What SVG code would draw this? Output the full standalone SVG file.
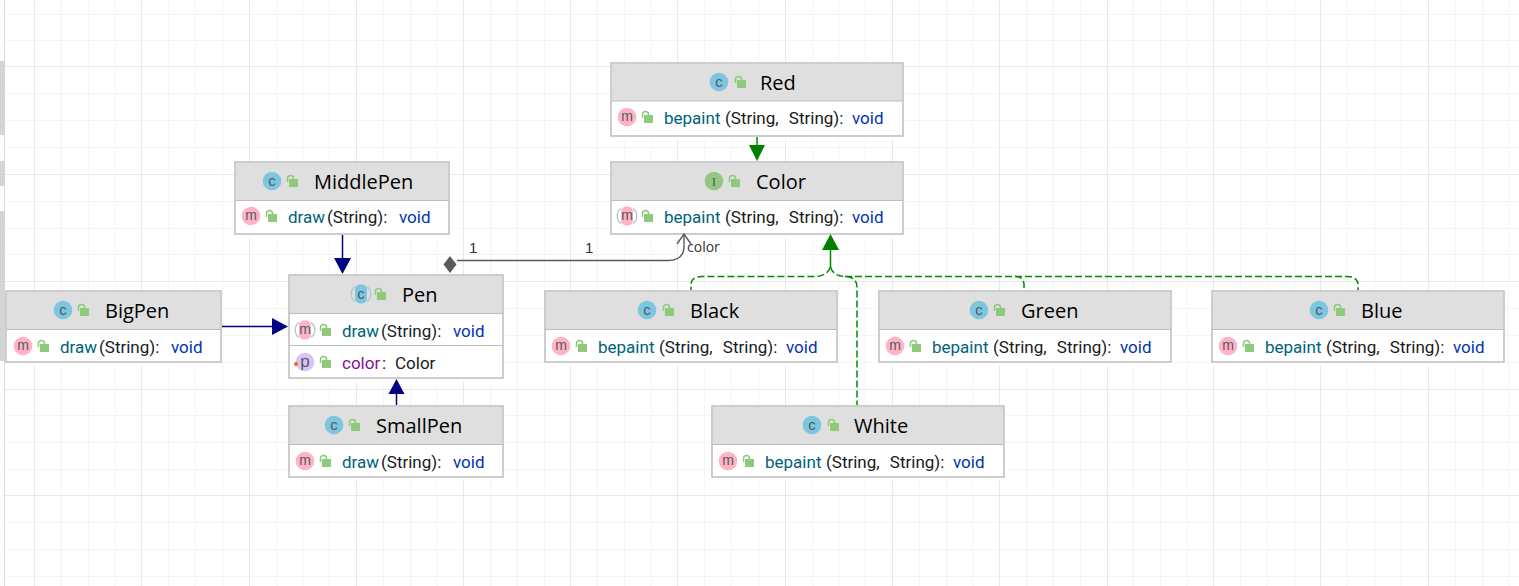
<svg xmlns="http://www.w3.org/2000/svg" width="1519" height="586" viewBox="0 0 1519 586">
<style>
.bg{fill:#fff}
.maj{stroke:#e8e8e8;stroke-width:1;fill:none}
.min{stroke:#f5f5f5;stroke-width:1;fill:none}
.strip{fill:#d4d4d4}
.box{fill:#fff;stroke:#bdbdbd;stroke-width:1.5;filter:drop-shadow(0 3px 0 #fff)}
.head{fill:#dfdfdf}
.div{stroke:#bdbdbd;stroke-width:1.2;fill:none}
text{font-family:Roboto,"Open Sans","DejaVu Sans",sans-serif}
.t{font-family:"Open Sans","Noto Sans",sans-serif;font-size:20px;fill:#000}
.m{font-size:17px;fill:#00627a}
.p{font-size:17px;fill:#1a1a1a;word-spacing:6px}
.v{font-size:17px;fill:#0033b3}
.f{font-size:17px;fill:#871094}
.g{font-family:"Open Sans",sans-serif;font-size:14px;fill:#333}
.n{font-family:"Liberation Sans",sans-serif;font-size:15px;fill:#333}
.ic{font-family:"Liberation Sans",sans-serif;font-size:15px;fill:#4f5b66;text-anchor:middle}
.gd{stroke:#008a00;stroke-width:1.5;fill:none;stroke-dasharray:7 3}
.gs{stroke:#008a00;stroke-width:1.5;fill:none}
.gh{fill:#008000}
.nl{stroke:#000080;stroke-width:1.5;fill:none}
.nh{fill:#000080}
.as{stroke:#5a5a5a;stroke-width:1.4;fill:none}
.ring{fill:none;stroke:#b9c4ca;stroke-width:1.3}
</style>
<defs>
<g id="lock"><rect x="-4" y="-2" width="9" height="8" fill="#8fc97a"/><path d="M-5.500 1V-2.500a3 3 0 0 1 6 0V-2" fill="none" stroke="#8fc97a" stroke-width="1.500"/></g>
<g id="ic-c"><circle r="9.300" fill="#7ec5e0"/><text class="ic" y="4.500">c</text></g>
<g id="ic-c-abs"><path class="ring" d="M-6 -7.500A9.300 9.300 0 0 0 -6 7.500M6 -7.500A9.300 9.300 0 0 1 6 7.500"/><rect x="-6" y="-9.500" width="12" height="19" rx="5" fill="#7ec5e0"/><text class="ic" y="4.500">c</text></g>
<g id="ic-i"><circle r="9.300" fill="#97c684"/><text class="ic" y="4.500" style="font-family:'Liberation Serif',serif;font-size:13px">I</text></g>
<g id="ic-m"><circle r="9.300" fill="#ffb3c3"/><text class="ic" y="4" style="font-size:14px">m</text></g>
<g id="ic-m-abs"><path class="ring" d="M-6 -7.500A9.300 9.300 0 0 0 -6 7.500M6 -7.500A9.300 9.300 0 0 1 6 7.500"/><rect x="-6" y="-9.500" width="12" height="19" rx="5" fill="#ffb3c3"/><text class="ic" y="4" style="font-size:14px">m</text></g>
<g id="ic-p"><circle r="9.300" fill="#d9c5f5"/><text class="ic" y="5" style="font-size:17px">p</text></g>
</defs>
<rect class="bg" width="1519" height="586"/>
<!-- canvas grid -->
<g id="grid">
<path class="min" d="M61.500 0V586M88.500 0V586M115.500 0V586M168.500 0V586M195.500 0V586M222.500 0V586M276.500 0V586M302.500 0V586M329.500 0V586M383.500 0V586M410.500 0V586M436.500 0V586M490.500 0V586M517.500 0V586M544.500 0V586M597.500 0V586M624.500 0V586M651.500 0V586M704.500 0V586M731.500 0V586M758.500 0V586M812.500 0V586M838.500 0V586M865.500 0V586M919.500 0V586M946.500 0V586M972.500 0V586M1026.500 0V586M1053.500 0V586M1080.500 0V586M1133.500 0V586M1160.500 0V586M1187.500 0V586M1240.500 0V586M1267.500 0V586M1294.500 0V586M1347.500 0V586M1374.500 0V586M1401.500 0V586M1455.500 0V586M1482.500 0V586M1508.500 0V586"/>
<path class="min" d="M5 14.500H1519M5 40.500H1519M5 93.500H1519M5 120.500H1519M5 147.500H1519M5 201.500H1519M5 228.500H1519M5 254.500H1519M5 308.500H1519M5 335.500H1519M5 362.500H1519M5 415.500H1519M5 442.500H1519M5 469.500H1519M5 522.500H1519M5 549.500H1519M5 576.500H1519"/>
<path class="maj" d="M34.500 0V586M141.500 0V586M249.500 0V586M356.500 0V586M463.500 0V586M570.500 0V586M677.500 0V586M785.500 0V586M892.500 0V586M999.500 0V586M1107.500 0V586M1213.500 0V586M1320.500 0V586M1428.500 0V586"/>
<path class="maj" d="M5 66.500H1519M5 174.500H1519M5 281.500H1519M5 389.500H1519M5 495.500H1519"/>
<path d="M4.500 0V586" stroke="#dcdcdc" fill="none"/>
<rect class="strip" x="0" y="61" width="5" height="74"/>
<rect class="strip" x="0" y="161" width="5" height="25"/>
<rect class="strip" x="0" y="211" width="5" height="150"/>
</g>
<g id="Red">
<rect class="box" x="611" y="63" width="292" height="73"/><rect class="head" x="612" y="64" width="290" height="37"/><path class="div" d="M611 101H903"/>
<use href="#ic-c" x="719" y="82"/><use href="#lock" x="741" y="82"/><text class="t" x="760" y="90">Red</text>
<use href="#ic-m" x="627" y="117"/><use href="#lock" x="648" y="117"/>
<text class="m" x="664" y="124">bepaint</text><text class="p" x="725" y="124">(String, String):</text><text class="v" x="852" y="124">void</text>
</g>
<g id="Color">
<rect class="box" x="611" y="162" width="292" height="72"/><rect class="head" x="612" y="163" width="290" height="37"/><path class="div" d="M611 200.500H903"/>
<use href="#ic-i" x="714" y="181"/><use href="#lock" x="735" y="181"/><text class="t" x="756" y="189">Color</text>
<use href="#ic-m-abs" x="627" y="216"/><use href="#lock" x="648" y="216"/>
<text class="m" x="664" y="223">bepaint</text><text class="p" x="725" y="223">(String, String):</text><text class="v" x="852" y="223">void</text>
</g>
<g id="MiddlePen">
<rect class="box" x="235" y="162" width="214" height="72"/><rect class="head" x="236" y="163" width="212" height="37"/><path class="div" d="M235 200.500H449"/>
<use href="#ic-c" x="272" y="181"/><use href="#lock" x="293" y="181"/><text class="t" x="314" y="189">MiddlePen</text>
<use href="#ic-m" x="251" y="216"/><use href="#lock" x="272" y="216"/>
<text class="m" x="288" y="223">draw</text><text class="p" x="327" y="223">(String):</text><text class="v" x="399" y="223">void</text>
</g>
<g id="Pen">
<rect class="box" x="289" y="275" width="214" height="103"/><rect class="head" x="290" y="276" width="212" height="37"/><path class="div" d="M289 313.500H503M289 345.500H503"/>
<use href="#ic-c-abs" x="361" y="294"/><use href="#lock" x="381" y="294"/><text class="t" x="402" y="302">Pen</text>
<use href="#ic-m-abs" x="305" y="330"/><use href="#lock" x="326" y="330"/>
<text class="m" x="342" y="337">draw</text><text class="p" x="381" y="337">(String):</text><text class="v" x="453" y="337">void</text>
<use href="#ic-p" x="305" y="362"/><circle cx="296" cy="364" r="2" fill="#f26522"/><use href="#lock" x="326" y="362"/>
<text class="f" x="342" y="369">color</text><text class="p" x="382" y="369">:</text><text class="p" x="395" y="369">Color</text>
</g>
<g id="BigPen">
<rect class="box" x="6" y="291" width="215" height="71"/><rect class="head" x="7" y="292" width="213" height="37"/><path class="div" d="M6 329.500H221"/>
<use href="#ic-c" x="63" y="310"/><use href="#lock" x="84" y="310"/><text class="t" x="105" y="318">BigPen</text>
<use href="#ic-m" x="23" y="346"/><use href="#lock" x="44" y="346"/>
<text class="m" x="60" y="353">draw</text><text class="p" x="99" y="353">(String):</text><text class="v" x="171" y="353">void</text>
</g>
<g id="Black">
<rect class="box" x="545" y="291" width="292" height="71"/><rect class="head" x="546" y="292" width="290" height="37"/><path class="div" d="M545 329.500H837"/>
<use href="#ic-c" x="647" y="310"/><use href="#lock" x="669" y="310"/><text class="t" x="690" y="318">Black</text>
<use href="#ic-m" x="561" y="346"/><use href="#lock" x="582" y="346"/>
<text class="m" x="598" y="353">bepaint</text><text class="p" x="659" y="353">(String, String):</text><text class="v" x="786" y="353">void</text>
</g>
<g id="Green">
<rect class="box" x="879" y="291" width="292" height="71"/><rect class="head" x="880" y="292" width="290" height="37"/><path class="div" d="M879 329.500H1171"/>
<use href="#ic-c" x="979" y="310"/><use href="#lock" x="1000" y="310"/><text class="t" x="1021" y="318">Green</text>
<use href="#ic-m" x="895" y="346"/><use href="#lock" x="916" y="346"/>
<text class="m" x="932" y="353">bepaint</text><text class="p" x="993" y="353">(String, String):</text><text class="v" x="1120" y="353">void</text>
</g>
<g id="Blue">
<rect class="box" x="1212" y="291" width="292" height="71"/><rect class="head" x="1213" y="292" width="290" height="37"/><path class="div" d="M1212 329.500H1504"/>
<use href="#ic-c" x="1319" y="310"/><use href="#lock" x="1340" y="310"/><text class="t" x="1361" y="318">Blue</text>
<use href="#ic-m" x="1228" y="346"/><use href="#lock" x="1249" y="346"/>
<text class="m" x="1265" y="353">bepaint</text><text class="p" x="1326" y="353">(String, String):</text><text class="v" x="1453" y="353">void</text>
</g>
<g id="White">
<rect class="box" x="712" y="406" width="292" height="71"/><rect class="head" x="713" y="407" width="290" height="37"/><path class="div" d="M712 444.500H1004"/>
<use href="#ic-c" x="812" y="425"/><use href="#lock" x="834" y="425"/><text class="t" x="854" y="433">White</text>
<use href="#ic-m" x="728" y="461"/><use href="#lock" x="749" y="461"/>
<text class="m" x="765" y="468">bepaint</text><text class="p" x="826" y="468">(String, String):</text><text class="v" x="953" y="468">void</text>
</g>
<g id="SmallPen">
<rect class="box" x="289" y="406" width="214" height="71"/><rect class="head" x="290" y="407" width="212" height="37"/><path class="div" d="M289 444.500H503"/>
<use href="#ic-c" x="334" y="425"/><use href="#lock" x="355" y="425"/><text class="t" x="376" y="433">SmallPen</text>
<use href="#ic-m" x="305" y="461"/><use href="#lock" x="326" y="461"/>
<text class="m" x="342" y="468">draw</text><text class="p" x="381" y="468">(String):</text><text class="v" x="453" y="468">void</text>
</g>
<!-- dependency edges -->
<g id="connectors">
<path class="gs" d="M757 137V146"/>
<polygon class="gh" points="749,145 765,145 757,161"/>
<path class="as" d="M457 260.500H668Q684 260.500 684 246V235"/>
<path class="as" d="M677 244L684 234L691 244"/>
<polygon points="450,256 456.500,264.500 450,273 443.500,264.500" fill="#5a5a5a"/>
<text class="n" x="469" y="253">1</text>
<text class="n" x="585" y="253">1</text>
<text class="g" x="687" y="252">color</text>
<path class="nl" d="M342.500 235V259"/>
<polygon class="nh" points="334,258 351,258 342.500,274"/>
<path class="nl" d="M222 326.500H273"/>
<polygon class="nh" points="272,318 272,335 288,326.500"/>
<path class="nl" d="M396.500 405V393"/>
<polygon class="nh" points="388.500,394 404.500,394 396.500,379"/>
<path class="gs" d="M830.500 249V267"/>
<polygon class="gh" points="822,250 839,250 830.500,234"/>
<path class="gd" d="M830.500 267Q827 276 816 276.500H702Q691 276.500 691 285V290"/>
<path class="gd" d="M830.500 267Q833 276 845 276.500Q857 277 857 287V405"/>
<path class="gd" d="M845 276.500H1015Q1024 276.500 1024 285V290"/>
<path class="gd" d="M1015 276.500H1347Q1358 276.500 1358 285V290"/>
</g>
</svg>
